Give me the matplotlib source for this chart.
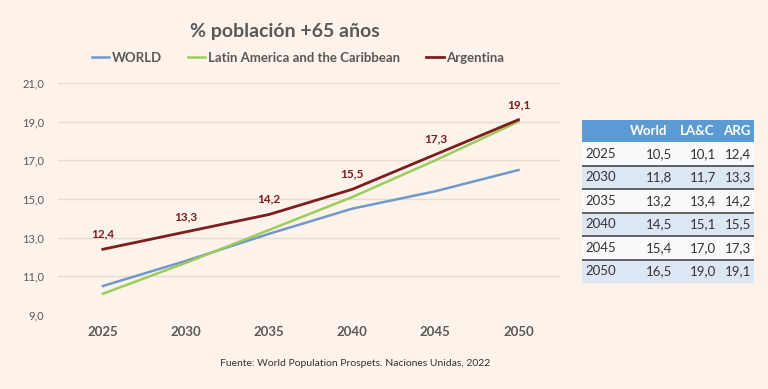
import matplotlib.pyplot as plt
from matplotlib.patches import Rectangle

plt.rcParams['font.family'] = ['Lato', 'DejaVu Sans']

years = [2025, 2030, 2035, 2040, 2045, 2050]
world = [10.5, 11.8, 13.2, 14.5, 15.4, 16.5]
lac = [10.1, 11.7, 13.4, 15.1, 17.0, 19.0]
arg = [12.4, 13.3, 14.2, 15.5, 17.3, 19.1]

bg = '#fdf3ea'
c_world = '#7098cc'
c_lac = '#9bcd5c'
c_arg = '#7d1d1d'
grey = '#595959'


def fmt(v):
    return f"{v:.1f}".replace('.', ',')


fig = plt.figure(figsize=(7.68, 3.89), dpi=100, facecolor=bg)
W, H = 768, 389

ax = fig.add_axes([58 / W, 1 - 315 / H, 502 / W, 232 / H])
ax.set_facecolor(bg)
ax.plot(years, world, color=c_world, lw=1.8, label='WORLD')
ax.plot(years, lac, color=c_lac, lw=1.8, label='Latin America and the Caribbean')
ax.plot(years, arg, color=c_arg, lw=2.0, label='Argentina')
for x, v in zip(years, arg):
    ax.annotate(fmt(v), (x, v), xytext=(0, 7), textcoords='offset points',
                ha='center', va='bottom', fontsize=8.5, fontweight='bold', color=c_arg)

ax.set_xlim(2022.3, 2052.5)
ax.set_ylim(9, 21)
ax.set_xticks(years)
ax.set_xticklabels([str(y) for y in years], fontsize=9.5, fontweight='bold', color=grey)
ax.set_yticks([9, 11, 13, 15, 17, 19, 21])
ax.set_yticklabels([fmt(v) for v in [9, 11, 13, 15, 17, 19, 21]], fontsize=8, color=grey)
ax.tick_params(length=0, pad=8)
ax.tick_params(axis='y', pad=10)
ax.grid(axis='y', color='#e4dcd5', lw=1)
ax.set_axisbelow(True)
for s in ax.spines.values():
    s.set_visible(False)

fig.text(285 / W, 1 - 31 / H, '% población +65 años', ha='center', va='center',
         fontsize=14, fontweight='bold', color=grey)
ax.legend(loc='center', bbox_to_anchor=(298 / W, 1 - 58 / H), bbox_transform=fig.transFigure,
          ncol=3, frameon=False, handlelength=1.3, handletextpad=0.2,
          columnspacing=2.0, prop={'weight': 'bold', 'size': 9.5}, labelcolor=grey)

fig.text(355 / W, 1 - 364 / H, 'Fuente: World Population Prospets. Naciones Unidas, 2022',
         ha='center', va='center', fontsize=7.5, color='#333333')

# table
tx0, tx1, ty0, ty1 = 582, 754, 120, 283
tax = fig.add_axes([tx0 / W, 1 - ty1 / H, (tx1 - tx0) / W, (ty1 - ty0) / H])
tax.set_xlim(0, tx1 - tx0)
tax.set_ylim(ty1 - ty0, 0)
tax.axis('off')
hh = 22
rh = (ty1 - ty0 - hh) / len(years)
tax.add_patch(Rectangle((0, 0), tx1 - tx0, hh, color='#5b9bd5', lw=0))
for cx, name in zip([667 - tx0, 714 - tx0, 750 - tx0], ['World', 'LA&C', 'ARG']):
    tax.text(cx, hh / 2, name, ha='right', va='center', color='white',
             fontsize=9.5, fontweight='bold')
for i, y in enumerate(years):
    top = hh + i * rh
    tax.add_patch(Rectangle((0, top), tx1 - tx0, rh,
                            color='#dde7f3' if i % 2 == 1 else '#f8f9fb', lw=0))
    if i < len(years) - 1:
        tax.plot([0, tx1 - tx0], [top + rh, top + rh], color='#555555', lw=1.3)
    tax.text(3, top + rh / 2, str(y), ha='left', va='center', fontsize=9.5, color='#333333')
    for cx, v in zip([672 - tx0, 716 - tx0, 751 - tx0], [world[i], lac[i], arg[i]]):
        tax.text(cx, top + rh / 2, fmt(v), ha='right', va='center', fontsize=9.5, color='#333333')

fig.savefig('out.png', dpi=100, facecolor=bg)
